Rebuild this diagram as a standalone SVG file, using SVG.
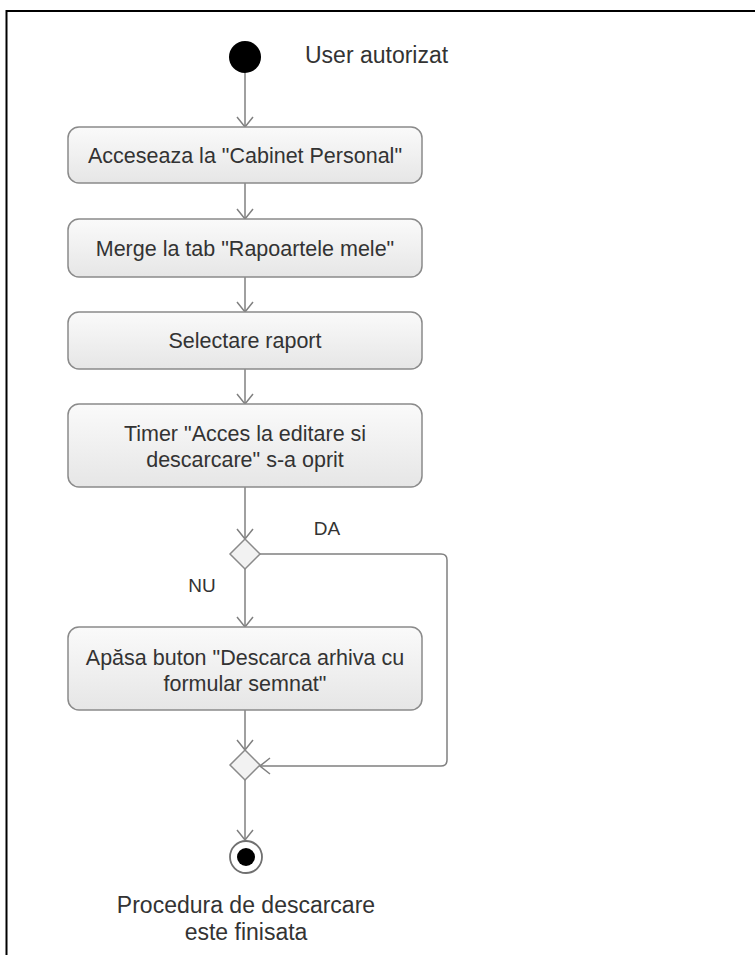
<svg xmlns="http://www.w3.org/2000/svg" width="755" height="955" viewBox="0 0 755 955">
<style>
.box{fill:url(#g);stroke:#8a8a8a;stroke-width:1.5}
.t{font-family:"Liberation Sans",Arial,sans-serif;font-size:21.5px;fill:#333;text-anchor:middle}
.lbl{font-family:"Liberation Sans",Arial,sans-serif;font-size:19px;fill:#333;text-anchor:middle}
.big{font-family:"Liberation Sans",Arial,sans-serif;font-size:23px;fill:#333}
.c{fill:none;stroke:#808080;stroke-width:1.5;marker-end:url(#a)}
.dia{fill:#f2f2f2;stroke:#8a8a8a;stroke-width:1.5}
</style>
<defs>
<linearGradient id="g" x1="0" y1="0" x2="0" y2="1">
<stop offset="0" stop-color="#fafafa"/>
<stop offset="1" stop-color="#e6e6e6"/>
</linearGradient>
<marker id="a" viewBox="0 0 12 18" refX="11" refY="9" markerWidth="12" markerHeight="18" markerUnits="userSpaceOnUse" orient="auto">
<path d="M1,1 L11,9 L1,17" fill="none" stroke="#808080" stroke-width="1.5"/>
</marker>
</defs>
<rect width="755" height="955" fill="#fff"/>
<path d="M6.5,955 V11 H755" fill="none" stroke="#000" stroke-width="2"/>
<g id="connectors">
<line class="c" x1="245" y1="73" x2="245" y2="127"/>
<line class="c" x1="245" y1="183" x2="245" y2="219"/>
<line class="c" x1="245" y1="277" x2="245" y2="312"/>
<line class="c" x1="245" y1="369" x2="245" y2="404"/>
<line class="c" x1="245" y1="487" x2="245" y2="539"/>
<line class="c" x1="245" y1="569" x2="245" y2="627"/>
<line class="c" x1="245" y1="710" x2="245" y2="750"/>
<path class="c" d="M260,554 H441 Q447,554 447,560 V760 Q447,766 441,766 H260"/>
<line class="c" x1="245" y1="780" x2="245" y2="840"/>
</g>
<g id="start">
<circle cx="245" cy="57" r="16" fill="#000"/>
<text class="big" x="305" y="63">User autorizat</text>
</g>
<g id="n1">
<rect class="box" x="68" y="127" width="354" height="56" rx="11"/>
<text class="t" x="245" y="163">Acceseaza la "Cabinet Personal"</text>
</g>
<g id="n2">
<rect class="box" x="68" y="219" width="354" height="58" rx="11"/>
<text class="t" x="245" y="256">Merge la tab "Rapoartele mele"</text>
</g>
<g id="n3">
<rect class="box" x="68" y="312" width="354" height="57" rx="11"/>
<text class="t" x="245" y="348">Selectare raport</text>
</g>
<g id="n4">
<rect class="box" x="68" y="404" width="354" height="83" rx="11"/>
<text class="t" x="245" y="441">Timer "Acces la editare si</text>
<text class="t" x="245" y="467">descarcare" s-a oprit</text>
</g>
<g id="d1">
<polygon class="dia" points="245,539 260,554 245,569 230,554"/>
<text class="lbl" x="327" y="535">DA</text>
<text class="lbl" x="202" y="592">NU</text>
</g>
<g id="n5">
<rect class="box" x="68" y="627" width="354" height="83" rx="11"/>
<text class="t" x="245" y="665">Apăsa buton "Descarca arhiva cu</text>
<text class="t" x="245" y="691">formular semnat"</text>
</g>
<g id="d2">
<polygon class="dia" points="245,750 260,765 245,780 230,765"/>
</g>
<g id="end">
<circle cx="246" cy="857" r="16" fill="#fff" stroke="#707070" stroke-width="1.8"/>
<circle cx="246" cy="857" r="9" fill="#000"/>
<text class="big" x="246" y="913" text-anchor="middle">Procedura de descarcare</text>
<text class="big" x="246" y="940" text-anchor="middle">este finisata</text>
</g>
</svg>
